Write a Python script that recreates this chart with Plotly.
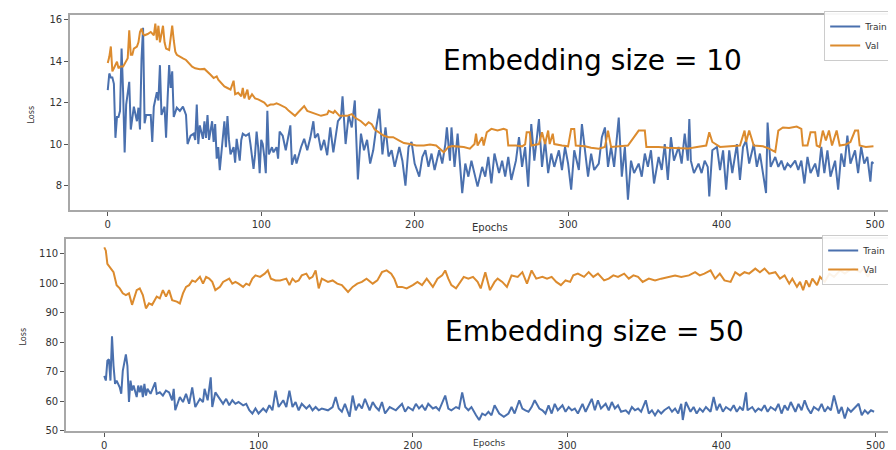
import plotly.graph_objects as go

# ---------------- Data ----------------
# Top panel: Embedding size = 10
top_train_epochs = [0,1,2,3,4,5,6,7,8,9,10,11,12,14,15,17,19,20,21,22,23,24,25,28,29,30,32,33,34,35,37,38,39,40,41,42,43,45,47,49,51,52,54,56,57,58,59,60,62,63,64,65,66,68,69,70,71,72,73,75,76,77,78,79,80,82,83,84,86,87,88,90,92,93,95,96,97,98,99,100,101,102,103,104,105,107,108,110,111,112,114,116,118,119,120,122,
                    123,126,128,130,132,134,135,137,139,141,143,145,147,150,152,153,155,157,159,161,163,165,167,169,171,173,175,177,179,181,183,185,187,190,192,194,196,198,200,203,205,207,209,211,213,216,218,220,221,223,224,226,228,231,233,235,237,239,241,244,246,248,250,
                    252,255,257,259,261,263,266,268,270,272,274,276,278,281,283,285,287,289,291,294,296,298,300,302,304,307,309,311,313,315,317,320,322,324,326,328,330,333,335,337,339,341,343,346,348,350,352,354,356,359,361,363,365,367,369,372,374,376,
                    378,379,380,382,385,387,389,391,392,394,397,399,401,403,405,407,410,412,414,416,418,421,423,425,427,429,430,432,435,437,439,441,443,445,448,450,452,454,456,458,461,463,465,467,469,471,474,476,478,480,482,484,487,489,491,493,495,497,498,499]
top_train_loss = [12.6,13.4,13.2,13.2,12.9,10.3,11.3,11.3,11.6,14.6,12.5,9.6,11.9,13.0,10.7,11.8,11.1,11.75,10.7,14.1,15.6,11.0,11.4,11.4,10.1,11.8,12.5,12.1,13.8,11.4,11.8,10.3,12.2,13.8,12.7,13.5,11.3,11.75,11.6,11.8,11.4,10.0,10.4,10.5,10.2,11.9,10.0,10.9,10.25,11.1,10.3,11.4,10.2,11.1,10.1,10.96,9.3,9.85,8.74,10.5,11.1,9.85,11.35,10.2,9.5,9.85,9.1,10.25,9.2,10.2,10.5,10.4,10.5,10.0,8.8,9.5,10.6,9.85,8.6,10.2,10.0,9.4,8.6,11.6,9.5,9.85,9.6,9.85,9.3,10.6,10.4,9.7,10.6,10.9,9.0,9.5,
                  9.06,9.86,10.25,9.7,10.3,11.1,10.3,10.5,9.7,10.2,9.46,10.8,9.6,11.1,11.3,12.3,10.0,11.4,10.8,12.1,8.3,10.5,9.7,10.2,9.06,9.7,10.8,11.7,9.5,10.8,9.4,9.7,8.9,9.86,9.2,8.0,9.86,10.1,9.06,8.43,9.38,9.7,8.9,9.54,8.75,9.7,9.06,10.0,10.8,9.2,10.8,8.9,10.5,7.64,9.06,8.43,9.2,8.6,7.95,8.9,8.43,9.38,8.1,
                  9.54,8.6,9.2,8.43,9.38,8.27,9.2,10.33,8.9,9.86,7.95,10.96,9.2,11.2,8.9,10.17,8.6,9.54,8.9,9.7,8.75,9.86,9.06,7.8,9.7,8.75,10.96,9.54,8.43,9.54,8.75,9.06,10.33,10.8,8.9,9.86,8.9,11.28,8.43,9.86,7.32,9.2,8.6,9.06,8.43,9.54,8.9,9.7,8.1,9.38,8.75,10.0,8.27,10.33,9.2,9.86,9.06,10.5,
                  9.2,11.2,9.2,8.6,9.06,8.6,9.2,8.9,7.48,9.7,9.86,8.75,9.7,7.8,9.7,8.6,10.0,8.27,9.86,10.17,9.06,10.0,8.9,9.54,8.6,7.64,11.04,8.9,9.38,8.9,9.2,8.75,9.06,8.9,9.2,8.75,9.2,8.1,9.38,8.6,9.06,8.43,9.86,8.6,9.7,8.43,9.2,7.8,9.54,8.9,10.41,9.06,9.7,8.6,9.86,9.06,9.38,8.19,9.14,9.06]

top_val_epochs = [0,1,2,3,4,5,6,7,8,10,12,13,14,15,16,17,19,20,21,22,23,24,26,28,30,31,32,33,34,35,36,37,38,40,42,43,44,45,47,49,51,53,55,57,60,63,65,67,69,71,72,74,76,78,80,82,83,85,87,88,89,91,92,94,96,98,100,102,104,106,108,110,112,114,116,118,120,122,124,126,128,
                  130,134,139,143,144,147,148,151,156,159,161,165,168,170,172,174,177,180,183,186,190,193,197,201,206,210,214,219,222,225,232,236,239,240,241,244,245,247,
                  250,254,258,260,261,266,270,272,273,275,276,281,283,285,287,288,290,291,296,300,302,304,305,311,315,320,324,326,328,335,339,346,350,351,359,365,372,378,
                  384,390,392,394,399,405,412,415,416,418,421,427,431,435,437,440,444,449,452,453,456,458,461,462,464,466,468,470,472,475,477,481,484,487,489,490,494,499]
top_val_loss = [13.9,14.2,14.7,13.5,13.65,13.8,13.97,13.65,13.73,13.73,13.97,14.13,15.48,14.3,14.3,14.6,14.7,14.9,15.4,15.56,15.3,15.24,15.3,15.4,15.24,15.8,15.0,15.7,14.9,15.24,15.7,14.9,14.6,14.53,15.7,15.0,14.45,14.3,14.2,14.13,14.05,13.9,13.73,13.65,13.6,13.62,13.5,13.34,13.18,13.26,13.1,12.94,12.78,12.7,12.62,13.05,12.4,12.47,12.3,12.7,12.2,12.62,12.15,12.4,12.2,12.15,12.07,12.0,11.83,11.9,11.9,11.96,11.9,11.83,11.75,11.6,11.47,11.36,11.52,11.67,11.83,
                11.6,11.5,11.36,11.44,11.6,11.5,11.6,11.36,11.36,11.44,11.28,11.1,10.9,11.05,10.96,10.7,10.57,10.4,10.33,10.33,10.17,10.05,10.0,9.93,9.93,9.98,9.93,9.6,9.86,9.9,9.86,9.78,10.0,10.5,9.93,10.33,9.93,10.57,
                10.73,10.65,10.73,10.68,9.93,9.93,9.89,9.98,10.57,10.57,9.93,10.0,10.57,10.0,10.65,10.0,10.5,10.0,9.93,9.89,10.73,10.73,9.93,9.89,9.82,9.78,9.86,10.65,9.86,9.89,9.93,10.65,10.65,9.86,9.86,9.82,9.8,9.78,
                9.86,9.93,10.57,10.1,9.86,9.89,9.93,10.65,10.1,10.65,9.93,9.89,9.78,9.62,10.65,10.8,10.77,10.84,10.73,9.93,9.93,10.57,10.57,9.93,9.86,10.65,10.17,10.65,9.93,10.65,9.93,9.98,10.1,10.65,10.65,9.93,9.86,9.89]

# Bottom panel: Embedding size = 50
bot_train_epochs = [0,1,2,3,4,5,6,7,8,10,11,12,14,15,16,17,18,19,21,22,23,24,25,26,27,28,30,33,34,36,38,40,42,44,45,46,49,51,53,55,57,59,62,64,65,67,69,70,72,75,77,79,81,83,85,87,90,92,94,96,98,100,103,105,107,109,111,113,116,118,120,122,124,126,128,131,133,135,137,139,141,145,148,150,152,154,156,159,161,163,165,167,169,172,174,176,178,180,182,185,187,189,191,193,195,197,200,202,204,206,208,210,213,215,217,219,221,223,225,228,230,232,234,236,238,241,243,245,247,249,251,253,256,259,262,264,266,269,271,273,275,277,279,282,284,286,288,290,292,294,297,299,301,303,305,307,310,312,314,316,318,320,322,325,327,329,331,333,335,338,340,342,344,346,348,351,353,355,357,359,361,363,366,368,370,372,374,375,377,380,382,384,386,388,390,393,395,397,399,401,403,406,408,410,412,414,416,417,420,422,424,426,428,430,432,435,437,439,441,443,445,448,450,452,454,456,458,460,463,465,467,469,471,473,476,478,480,482,484,486,489,491,493,495,497,499]
bot_train_loss = [68.6,67.0,73.7,74.2,67.0,82.0,72.0,65.9,67.0,64.7,62.5,70.3,75.9,72.0,59.7,67.0,63.6,65.3,61.4,65.3,63.0,65.3,61.4,65.9,61.9,64.2,62.5,66.4,62.5,63.0,61.9,63.6,63.0,60.3,64.2,56.9,61.4,59.7,62.5,59.1,64.7,58.0,60.8,59.7,64.2,60.3,68.1,58.0,63.0,60.8,59.1,60.8,58.6,60.3,59.1,59.7,58.6,59.1,56.9,55.8,57.5,55.8,57.5,56.4,58.6,56.9,63.6,58.0,60.3,58.0,63.6,58.0,59.7,56.9,59.1,57.5,58.6,56.9,58.0,56.9,57.5,56.9,58.0,61.4,57.5,56.4,59.1,54.7,61.9,56.9,59.1,57.5,60.8,56.9,59.7,58.0,56.9,59.7,55.8,58.0,57.5,56.9,58.0,59.1,56.4,58.0,56.9,59.1,57.5,58.6,56.9,59.1,57.5,58.0,56.9,59.7,61.9,57.5,56.9,58.0,57.5,63.0,58.0,56.9,58.0,55.2,53.6,55.8,55.2,56.4,55.2,58.6,55.8,54.7,55.8,58.0,55.8,60.3,57.5,56.9,56.4,58.0,60.3,57.5,56.9,55.8,58.6,55.8,59.1,56.9,58.6,56.4,58.0,56.9,57.5,55.8,59.1,56.4,58.6,60.8,56.9,60.3,57.5,59.1,56.9,59.7,57.5,58.6,56.4,56.9,55.8,58.0,56.9,57.5,56.4,60.3,55.8,56.9,55.2,56.9,55.8,56.9,58.0,56.4,57.5,55.8,59.1,53.6,59.7,56.4,58.0,55.8,57.5,56.4,58.0,56.4,61.4,56.9,59.1,56.4,58.0,56.9,58.6,56.4,58.0,56.9,63.0,56.9,58.0,56.4,57.5,56.9,58.6,56.4,58.0,56.9,59.1,55.8,58.6,56.9,59.7,56.4,59.1,56.9,60.3,57.5,55.8,58.0,56.9,59.1,56.4,58.0,56.9,61.9,55.8,58.0,54.1,57.5,56.4,57.5,59.1,55.2,56.9,55.8,56.9,56.4]

bot_val_epochs = [0,1,2,4,6,8,10,12,14,16,18,21,23,25,27,29,31,34,36,38,40,42,44,47,49,51,53,55,57,59,62,64,66,68,70,72,75,77,79,81,83,85,87,90,92,94,96,98,101,104,106,108,111,114,118,120,122,124,126,128,131,133,135,137,139,141,145,148,151,154,158,161,164,167,170,174,177,180,183,186,188,190,193,196,200,203,206,209,213,216,219,221,223,225,228,231,233,236,239,242,244,247,250,253,255,258,261,264,268,271,274,277,280,284,287,290,293,296,299,302,304,307,311,314,317,320,324,327,330,333,337,340,343,346,349,353,357,361,366,370,374,379,383,386,389,393,396,399,402,406,409,412,415,418,422,425,428,431,435,438,441,444,446,449,451,453,455,457,459,462,464,467,470,473,477,480,483,486,490,492,495,497,499]
bot_val_loss = [112.2,111.1,106.6,105.0,103.8,99.4,98.3,96.6,96.0,96.6,92.7,97.7,98.3,96.0,91.5,93.2,92.7,95.5,94.9,97.7,95.5,97.7,94.3,93.8,93.2,96.6,98.8,99.4,101.0,100.5,102.2,99.9,102.2,101.6,100.5,97.7,98.8,100.5,101.0,101.6,99.9,100.5,99.9,98.8,99.9,99.4,101.6,102.7,102.2,103.3,104.4,101.6,101.0,101.0,101.6,99.4,101.6,100.5,101.0,102.7,103.3,101.6,102.2,104.4,98.3,101.6,100.5,101.0,99.9,99.4,97.1,98.8,99.9,100.5,101.6,99.9,101.0,103.8,104.4,103.3,101.6,98.8,98.8,98.3,99.4,100.5,99.4,101.6,98.8,101.6,102.7,104.4,101.6,99.4,98.3,100.5,102.2,101.6,102.2,100.5,98.3,103.8,97.7,100.5,101.6,100.5,98.8,102.7,102.2,103.8,99.9,104.4,101.6,102.2,101.6,102.2,100.5,99.4,101.0,100.5,102.7,103.3,102.2,103.8,102.2,103.3,101.0,101.6,102.7,102.2,103.3,101.6,102.7,102.2,100.5,101.6,101.0,101.6,102.2,102.7,102.2,102.7,103.8,102.7,103.3,104.4,101.6,103.3,101.0,100.5,103.8,102.7,103.8,103.3,105.0,103.8,105.0,103.3,103.8,101.6,102.7,99.9,101.6,98.8,100.5,97.7,101.0,98.8,101.6,99.4,102.2,100.5,103.3,102.2,104.4,103.3,104.4,105.0,103.8,105.0,102.2,104.4,105.0]

top_yticks = [8, 10, 12, 14, 16]
bot_yticks = [50, 60, 70, 80, 90, 100, 110]
xticks = [0, 100, 200, 300, 400, 500]
series_names = ["Train", "Val"]
titles = ["Embedding size = 10", "Embedding size = 50"]

BLUE = "#4A70AE"
ORANGE = "#DC8B2E"
W, H = 896, 450

fig = go.Figure()
fig.add_trace(go.Scatter(x=top_train_epochs, y=top_train_loss, mode="lines", name=series_names[0],
                         line=dict(color=BLUE, width=2), xaxis="x", yaxis="y", legend="legend"))
fig.add_trace(go.Scatter(x=top_val_epochs, y=top_val_loss, mode="lines", name=series_names[1],
                         line=dict(color=ORANGE, width=2), xaxis="x", yaxis="y", legend="legend"))
fig.add_trace(go.Scatter(x=bot_train_epochs, y=bot_train_loss, mode="lines", name=series_names[0],
                         line=dict(color=BLUE, width=2), xaxis="x2", yaxis="y2", legend="legend2"))
fig.add_trace(go.Scatter(x=bot_val_epochs, y=bot_val_loss, mode="lines", name=series_names[1],
                         line=dict(color=ORANGE, width=2), xaxis="x2", yaxis="y2", legend="legend2"))

def px_x(p):
    return p / W

def px_y(p):
    return 1 - p / H

axis_common = dict(showline=True, mirror=True, linecolor="#a8a8a8", linewidth=1.5,
                   ticks="outside", ticklen=4, tickcolor="#555", tickwidth=1,
                   showgrid=False, zeroline=False,
                   tickfont=dict(family="DejaVu Sans", size=10, color="#333"))

legend_common = dict(xanchor="left", yanchor="top", bgcolor="rgba(255,255,255,0.9)",
                     bordercolor="#cccccc", borderwidth=1,
                     font=dict(family="DejaVu Sans", size=9, color="#333"),
                     itemwidth=30, tracegroupgap=0)

fig.update_layout(
    width=W, height=H, margin=dict(l=0, r=0, t=0, b=0),
    paper_bgcolor="white", plot_bgcolor="white",
    xaxis=dict(domain=[px_x(62), 1.0], range=[-24.7, 517.6], tickvals=xticks, anchor="y", **axis_common),
    yaxis=dict(domain=[px_y(204), px_y(6)], range=[6.81, 16.22], tickvals=top_yticks, anchor="x", **axis_common),
    xaxis2=dict(domain=[px_x(58), 1.0], range=[-24.9, 517.1], tickvals=xticks, anchor="y2", **axis_common),
    yaxis2=dict(domain=[px_y(428), px_y(233)], range=[49.77, 115.1], tickvals=bot_yticks, anchor="x2", **axis_common),
    legend=dict(x=px_x(818), y=px_y(2), **legend_common),
    legend2=dict(x=px_x(816), y=px_y(229), **legend_common),
    showlegend=True,
)

annos = [
    dict(text=titles[0], x=px_x(586), y=px_y(52), font=dict(family="DejaVu Sans", size=28, color="black")),
    dict(text=titles[1], x=px_x(588), y=px_y(327), font=dict(family="DejaVu Sans", size=28, color="black")),
    dict(text="Loss", x=px_x(23), y=px_y(107), textangle=-90, font=dict(family="DejaVu Sans Condensed", size=9, color="#333")),
    dict(text="Loss", x=px_x(15), y=px_y(332), textangle=-90, font=dict(family="DejaVu Sans Condensed", size=9, color="#333")),
    dict(text="Epochs", x=px_x(483), y=px_y(221), font=dict(family="DejaVu Sans", size=10, color="#333")),
    dict(text="Epochs", x=px_x(483), y=px_y(440), font=dict(family="DejaVu Sans", size=9, color="#333")),
]
for a in annos:
    fig.add_annotation(xref="paper", yref="paper", showarrow=False, xanchor="center", yanchor="middle", **a)

fig.write_html("out.html")
